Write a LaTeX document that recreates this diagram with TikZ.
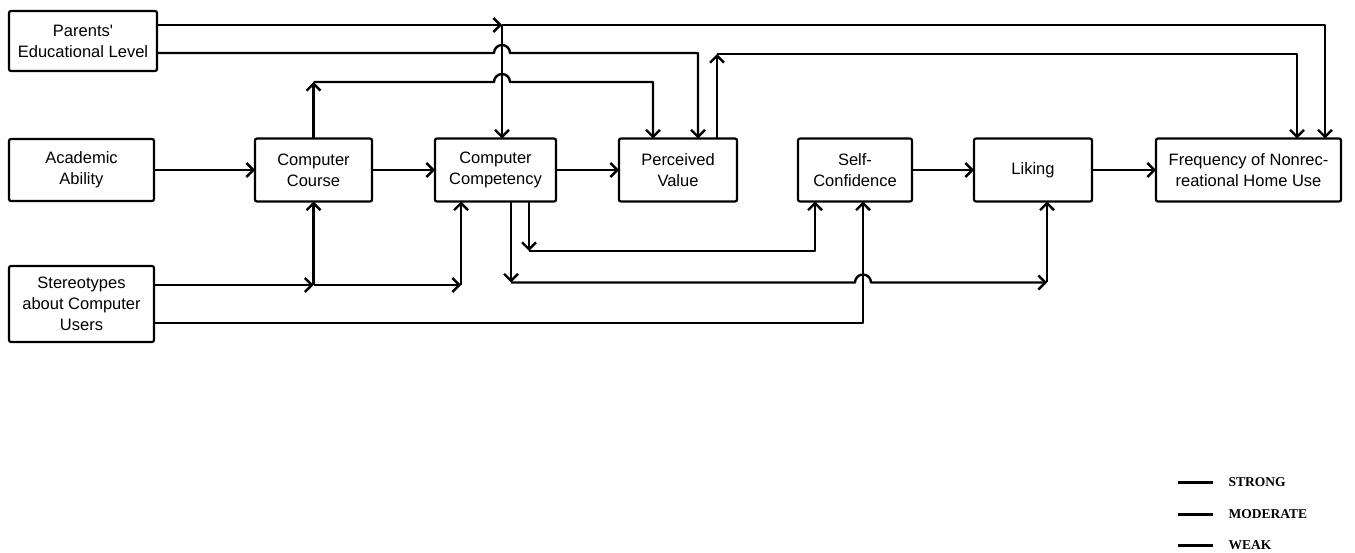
\documentclass[tikz,border=0pt]{standalone}
\usepackage{fontspec}
\newfontfamily\boxfont{Liberation Sans}
\newfontfamily\keyfont{Liberation Serif}
\usetikzlibrary{positioning,arrows.meta,calc}

\begin{document}
\begin{tikzpicture}[
    x=1pt, y=1pt,
    factorBox/.style={rectangle, rounded corners=2pt, draw=black, line width=2.2pt, outer sep=0pt, align=center, inner sep=3pt, font=\boxfont\fontsize{16.5}{21}\selectfont},
    arrowPath/.style={-{Straight Barb[length=7pt,width=14pt]}, line width=2.4pt, draw=black, line join=round},
    keyLine/.style={line width=3pt, draw=black},
    keyLabel/.style={font=\keyfont\bfseries\fontsize{13.5}{15}\selectfont, inner sep=0pt}
]
    \useasboundingbox (0,0) rectangle (1355,-553);

    % Exogenous factors (left column)
    \node[factorBox, minimum width=148pt, minimum height=60pt] (parents) at (83,-41) {Parents'\\Educational Level};
    \node[factorBox, minimum width=145pt, minimum height=62pt] (ability) at (81.5,-170) {Academic\\Ability};
    \node[factorBox, minimum width=145pt, minimum height=76pt] (stereo) at (81.5,-304) {Stereotypes\\about Computer\\Users};

    % Main chain
    \node[factorBox, minimum width=117pt, minimum height=63pt] (course) at (313.5,-170) {Computer\\Course};
    \node[factorBox, minimum width=121pt, minimum height=63pt, right=63pt of course] (compet) {Computer\\Competency};
    \node[factorBox, minimum width=118pt, minimum height=63pt, right=63pt of compet] (value) {Perceived\\Value};
    \node[factorBox, minimum width=114pt, minimum height=63pt, right=61pt of value] (selfconf) {Self-\\Confidence};
    \node[factorBox, minimum width=118pt, minimum height=63pt, right=62pt of selfconf] (liking) {Liking};
    \node[factorBox, minimum width=185pt, minimum height=63pt, right=64pt of liking] (homeuse) {Frequency of Nonrec-\\reational Home Use};

    \draw[arrowPath] (ability) -- (course);
    \draw[arrowPath] (course) -- (compet);
    \draw[arrowPath] (compet) -- (value);
    \draw[arrowPath] (selfconf) -- (liking);
    \draw[arrowPath] (liking) -- (homeuse);

    % Upper paths
    \coordinate (j1) at (502,-25);
    \draw[arrowPath] ([yshift=16pt]parents.east) -- (j1);
    \draw[arrowPath] (j1) -- (j1 |- compet.north);
    \draw[arrowPath] (j1) -| ([xshift=76.5pt]homeuse.north);
    \draw[arrowPath] ([yshift=-12pt]parents.east) -- ($(j1)+(-8,-28)$)
        arc[start angle=180, end angle=0, radius=8pt] -| ([xshift=20pt]value.north);

    \coordinate (c3) at ([yshift=56.5pt]course.north);
    \draw[arrowPath] (course.north) -- (c3);
    \draw[arrowPath] (c3) -- ($(c3 -| j1)+(-8,0)$)
        arc[start angle=180, end angle=0, radius=8pt] -| ([xshift=-25pt]value.north);

    \coordinate (c4) at ([xshift=39pt,yshift=84.5pt]value.north);
    \draw[arrowPath] ([xshift=39pt]value.north) -- (c4);
    \draw[arrowPath] (c4) -| ([xshift=48.5pt]homeuse.north);

    % Lower paths
    \coordinate (j2) at ($(stereo.east -| course.south)+(0,19)$);
    \coordinate (j3) at ($(j2 -| compet.south)+(-34.5,0)$);
    \draw[arrowPath] ([yshift=19pt]stereo.east) -- (j2);
    \draw[arrowPath] (j2) -- (course.south);
    \draw[arrowPath] (j2) -- (j3);
    \draw[arrowPath] (j3) -- (j3 |- compet.south);
    \draw[arrowPath] ([yshift=-19pt]stereo.east) -| ([xshift=8pt]selfconf.south);

    \coordinate (d1) at ($(compet.south)+(15.5,-81)$);
    \coordinate (d1e) at ($(d1 -| liking.south)+(14,0)$);
    \draw[arrowPath] ([xshift=15.5pt]compet.south) -- (d1);
    \draw[arrowPath] (d1) -- (d1 -| selfconf.south)
        arc[start angle=180, end angle=0, radius=8pt] -- (d1e);
    \draw[arrowPath] (d1e) -- (d1e |- liking.south);

    \coordinate (d2) at ($(compet.south)+(33.5,-49.5)$);
    \draw[arrowPath] ([xshift=33.5pt]compet.south) -- (d2);
    \draw[arrowPath] (d2) -| ([xshift=-40pt]selfconf.south);

    % Key
    \draw[keyLine] (1178,-482) -- ++(35,0) node[keyLabel, right=14pt] (strong) {STRONG};
    \draw[keyLine] (1178,-514) -- ++(35,0) node[keyLabel, right=14pt] (moderate) {MODERATE};
    \draw[keyLine] (1178,-545) -- ++(35,0) node[keyLabel, right=14pt] (weak) {WEAK};
\end{tikzpicture}
\end{document}
